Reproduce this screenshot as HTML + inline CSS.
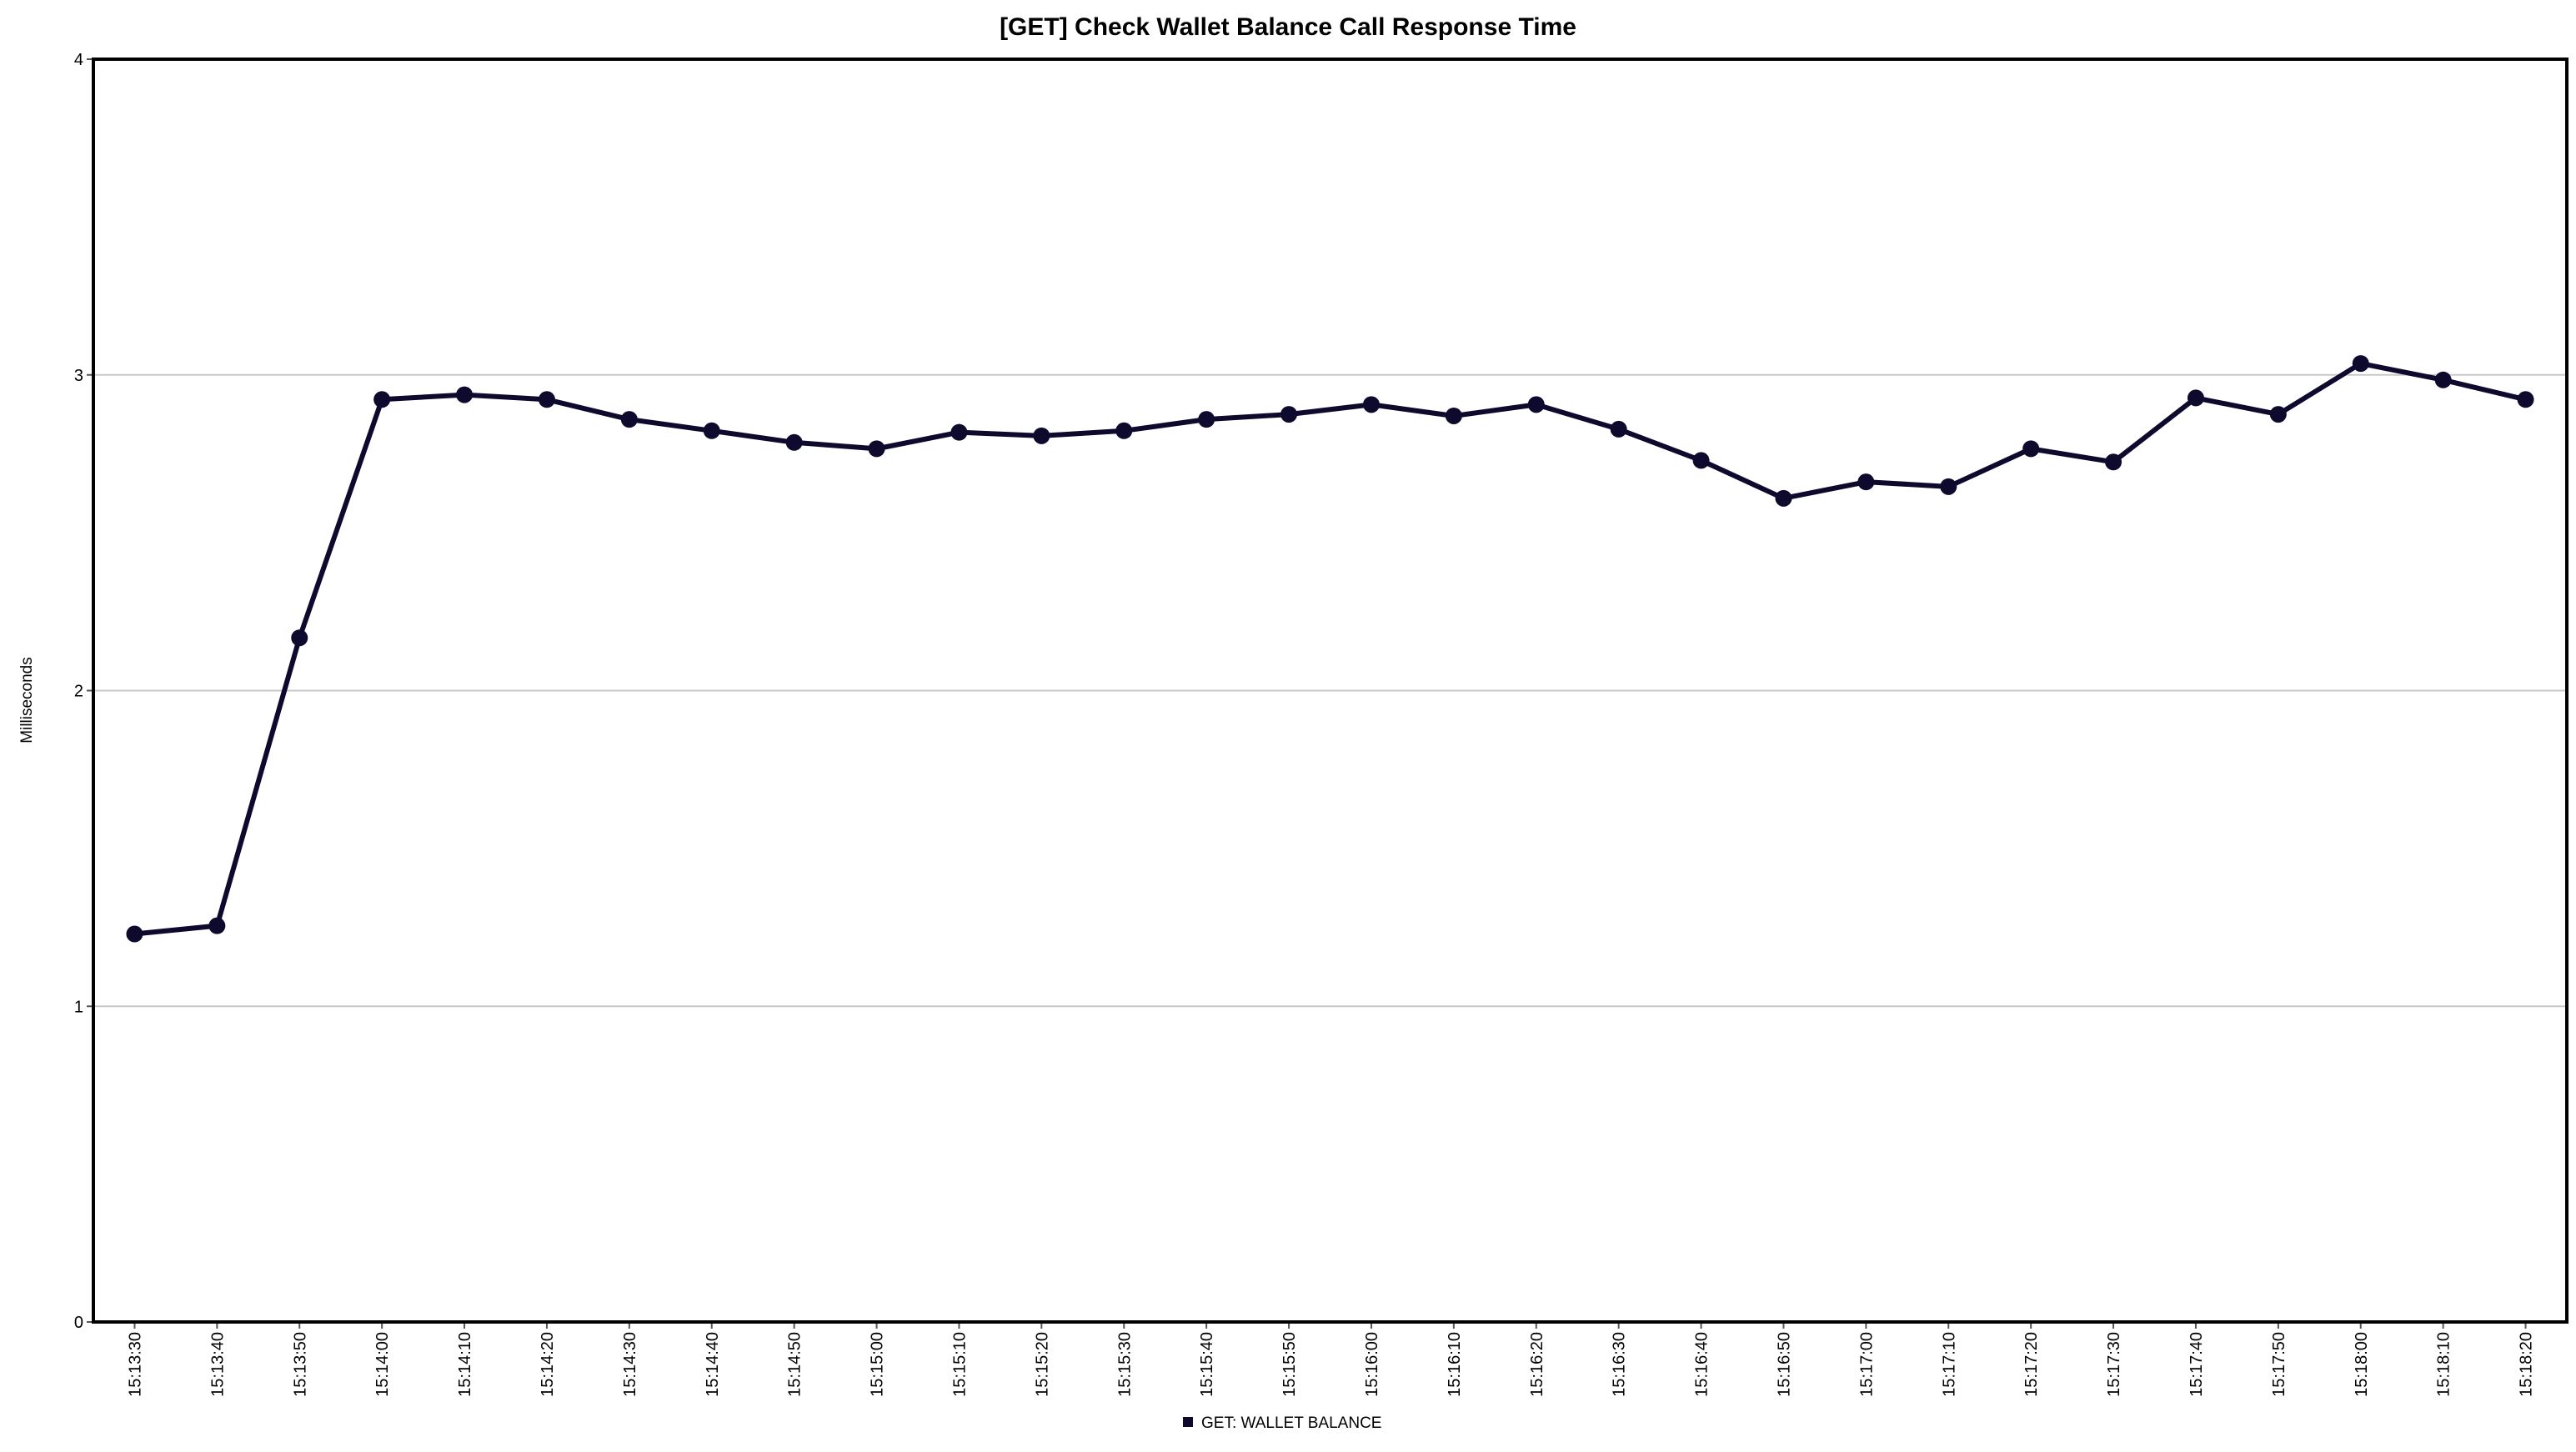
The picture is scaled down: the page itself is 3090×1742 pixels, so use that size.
<!DOCTYPE html>
<html><head><meta charset="utf-8"><style>
html,body{margin:0;padding:0;background:#fff;}
svg{display:block;font-family:"Liberation Sans",Arial,sans-serif;}
</style></head><body>
<svg id="chart" width="3090" height="1742" viewBox="0 0 3090 1742">
<text x="1545" y="42" text-anchor="middle" font-size="30" font-weight="bold" fill="#000">[GET] Check Wallet Balance Call Response Time</text>
<text transform="translate(38,840) rotate(-90)" text-anchor="middle" font-size="19" fill="#000">Milliseconds</text>
<g id="grid"></g>
<g id="yticks"></g>
<g id="xticks"></g>
<g id="series"></g>
<rect x="112" y="71" width="2967" height="1515" fill="none" stroke="#000" stroke-width="4"/>
<g>
<rect x="1419" y="1700" width="12" height="12" fill="#0d0a2e"/>
<text x="1441" y="1713" font-size="19" fill="#000">GET: WALLET BALANCE</text>
</g>
</svg>
<script>
const categories = ["15:13:30","15:13:40","15:13:50","15:14:00","15:14:10","15:14:20","15:14:30","15:14:40","15:14:50","15:15:00","15:15:10","15:15:20","15:15:30","15:15:40","15:15:50","15:16:00","15:16:10","15:16:20","15:16:30","15:16:40","15:16:50","15:17:00","15:17:10","15:17:20","15:17:30","15:17:40","15:17:50","15:18:00","15:18:10","15:18:20"];
const values = [1.229,1.255,2.167,2.922,2.937,2.922,2.859,2.823,2.786,2.766,2.818,2.807,2.823,2.859,2.875,2.906,2.870,2.906,2.828,2.729,2.609,2.661,2.646,2.766,2.724,2.927,2.875,3.036,2.984,2.922];
const yTicks = [0,1,2,3,4];
const NS="http://www.w3.org/2000/svg";
const L=112,R=3079,T=71,B=1586,yMax=4;
const band=(R-L)/categories.length;
function xs(i){return L+band*(i+0.5);}
function ys(v){return B-(v/yMax)*(B-T);}
function mk(tag,a){const e=document.createElementNS(NS,tag);for(const k in a)e.setAttribute(k,a[k]);return e;}
const grid=document.getElementById('grid'),yt=document.getElementById('yticks'),xt=document.getElementById('xticks'),ser=document.getElementById('series');
yTicks.forEach(v=>{
  const y=ys(v);
  if(v>0&&v<yMax){const g=mk('line',{x1:L,x2:R,y1:y,y2:y,stroke:'#c8c8c8','stroke-width':2});
  
  grid.appendChild(g);}
  const t=mk('line',{x1:L-8,x2:L,y1:y,y2:y,stroke:'#555','stroke-width':2});yt.appendChild(t);
  const tx=mk('text',{x:L-12,y:y+7,'text-anchor':'end','font-size':20,fill:'#000'});tx.textContent=v;
  
  yt.appendChild(tx);
});
categories.forEach((c,i)=>{
  const x=xs(i);
  xt.appendChild(mk('line',{x1:x,x2:x,y1:B,y2:B+8,stroke:'#555','stroke-width':2}));
  const tx=mk('text',{transform:`translate(${x+7},${B+12}) rotate(-90)`,'text-anchor':'end','font-size':20,fill:'#000'});
  tx.textContent=c;
  
  xt.appendChild(tx);
});
const pts=values.map((v,i)=>xs(i)+','+ys(v)).join(' ');
const pl=mk('polyline',{points:pts,fill:'none',stroke:'#0d0a2e','stroke-width':6,'stroke-linejoin':'round'});


ser.appendChild(pl);
values.forEach((v,i)=>{
  const c=mk('circle',{cx:xs(i),cy:ys(v),r:10,fill:'#0d0a2e'});
  
  
  ser.appendChild(c);
});
</script>
</body></html>
